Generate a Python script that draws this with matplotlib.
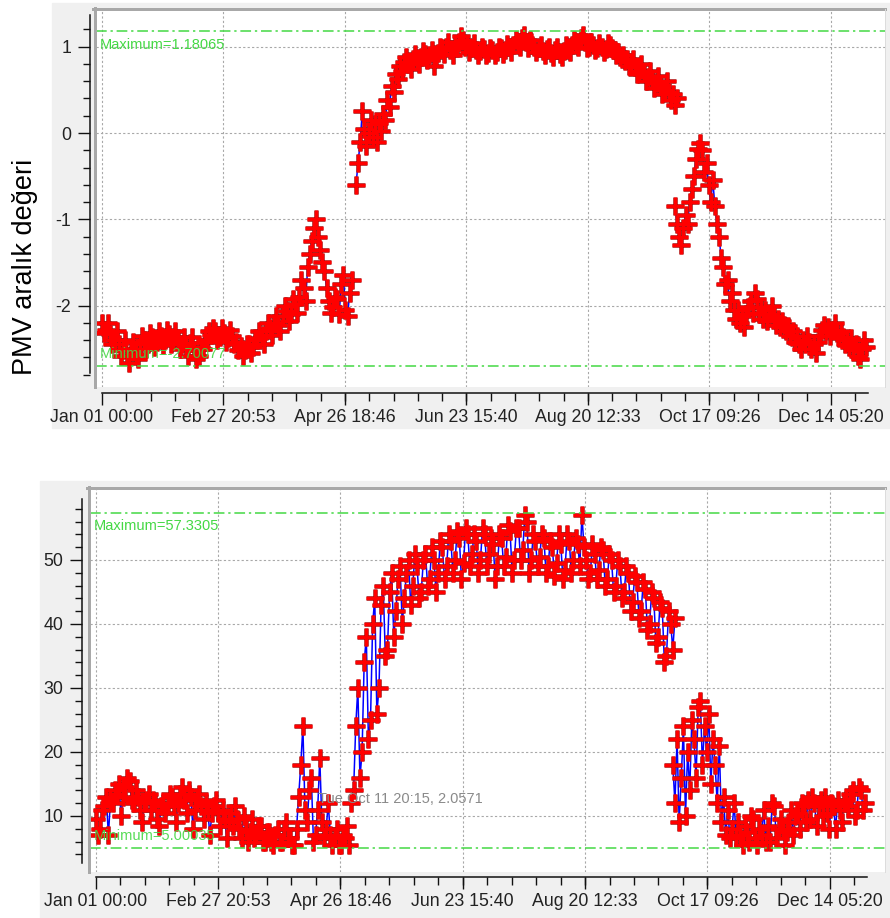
import numpy as np
import pandas as pd
import matplotlib
matplotlib.use('Agg')
import matplotlib.pyplot as plt
from matplotlib.ticker import FixedLocator, NullFormatter
from matplotlib.lines import Line2D
from matplotlib.patches import Rectangle

W, H = 890, 918

# x axis labels (one year, hourly data)
tick_labels = ['Jan 01 00:00', 'Feb 27 20:53', 'Apr 26 18:46', 'Jun 23 15:40',
               'Aug 20 12:33', 'Oct 17 09:26', 'Dec 14 05:20']

# top chart: PMV, three segments, one value per day from the start day
pmv_starts = [0, 121, 273]
pmv_seg1 = [-2.20, -2.32, -2.28, -2.20, -2.33, -2.45, -2.40, -2.30, -2.45, -2.58,
            -2.52, -2.40, -2.58, -2.66, -2.50, -2.42, -2.56, -2.62, -2.45, -2.35,
            -2.40, -2.50, -2.44, -2.32, -2.36, -2.48, -2.42, -2.30, -2.35, -2.46,
            -2.40, -2.28, -2.33, -2.44, -2.41, -2.30, -2.38, -2.50, -2.45, -2.36,
            -2.48, -2.58, -2.43, -2.36, -2.52, -2.62, -2.58, -2.48, -2.50, -2.40,
            -2.42, -2.30, -2.34, -2.26, -2.30, -2.40, -2.36, -2.26, -2.32, -2.42,
            -2.38, -2.28, -2.35, -2.44, -2.42, -2.52, -2.47, -2.58, -2.52, -2.44,
            -2.45, -2.55, -2.48, -2.38, -2.40, -2.30, -2.36, -2.44, -2.30, -2.20,
            -2.26, -2.34, -2.20, -2.12, -2.22, -2.30, -2.12, -2.00, -2.06, -2.18,
            -2.10, -1.92, -1.98, -2.08, -1.90, -1.70, -1.80, -1.95, -1.55, -1.40,
            -1.25, -1.10, -1.00, -1.20, -1.35, -1.50, -1.60, -1.80, -1.95, -2.08,
            -2.02, -1.90, -1.92, -2.10, -1.75, -1.65, -2.05, -2.12, -1.85, -1.70]
pmv_seg2 = [-0.60, -0.35, -0.10, 0.25, 0.05, -0.15, 0.00, 0.15, -0.05, 0.10,
            -0.10, 0.12, 0.02, 0.22, 0.15, 0.38, 0.30, 0.55, 0.48, 0.68,
            0.62, 0.78, 0.72, 0.82, 0.88, 0.80, 0.74, 0.86, 0.92, 0.84,
            0.80, 0.88, 0.95, 0.92, 0.85, 0.90, 0.96, 0.78, 0.88, 0.93,
            1.00, 0.98, 0.92, 1.00, 1.06, 0.96, 0.90, 1.02, 0.98, 1.05,
            1.12, 1.08, 1.00, 1.02, 0.94, 0.98, 1.04, 0.96, 0.90, 0.95,
            1.00, 0.97, 0.90, 0.93, 0.99, 0.96, 0.90, 0.94, 1.00, 0.98,
            0.92, 0.96, 1.03, 1.00, 0.94, 1.02, 1.08, 1.06, 1.00, 1.10,
            1.14, 1.05, 0.98, 1.08, 1.02, 1.00, 0.94, 0.98, 1.02, 0.95,
            0.90, 0.97, 1.00, 0.93, 0.88, 0.96, 1.00, 0.92, 0.88, 0.95,
            1.02, 0.98, 0.94, 1.02, 1.08, 1.06, 1.00, 1.10, 1.14, 1.05,
            0.98, 1.00, 1.06, 1.02, 0.96, 0.98, 1.04, 1.00, 0.94, 0.97,
            1.04, 1.02, 0.98, 0.96, 0.90, 0.94, 0.88, 0.90, 0.84, 0.86,
            0.78, 0.82, 0.86, 0.76, 0.68, 0.72, 0.80, 0.70, 0.60, 0.65,
            0.72, 0.62, 0.52, 0.58, 0.66, 0.55, 0.45, 0.50, 0.60, 0.48,
            0.38, 0.45, 0.32, 0.40]
pmv_seg3 = [-0.85, -1.05, -1.20, -1.30, -1.10, -0.95, -1.05, -0.80, -0.65, -0.50,
            -0.30, -0.18, -0.12, -0.20, -0.45, -0.35, -0.60, -0.80, -0.55, -0.85,
            -1.05, -1.20, -1.45, -1.55, -1.75, -1.70, -1.95, -1.85, -2.05, -2.15,
            -2.05, -2.20, -2.12, -2.25, -2.10, -2.02, -1.95, -2.08, -1.85, -1.92,
            -2.10, -2.02, -2.15, -2.05, -2.18, -2.10, -2.00, -2.12, -2.22, -2.15,
            -2.25, -2.18, -2.22, -2.30, -2.24, -2.35, -2.30, -2.42, -2.35, -2.45,
            -2.50, -2.40, -2.45, -2.35, -2.42, -2.50, -2.45, -2.55, -2.42, -2.35,
            -2.28, -2.22, -2.30, -2.25, -2.35, -2.28, -2.20, -2.32, -2.38, -2.30,
            -2.36, -2.44, -2.40, -2.48, -2.38, -2.52, -2.45, -2.58, -2.62, -2.50,
            -2.40, -2.48]
pmv_max = 1.18065
pmv_min = -2.70077

# bottom chart
val_starts = [0, 121, 273]
val_seg1 = [9.5, 7.0, 8.0, 11.0, 11.5, 13.0, 7.0, 12.5, 12.0, 14.0,
            13.5, 15.0, 10.0, 13.0, 14.5, 16.0, 15.5, 12.5, 12.0, 14.0,
            13.0, 11.0, 9.0, 12.0, 12.5, 13.5, 11.0, 12.5, 12.0, 9.5,
            8.5, 11.5, 12.0, 10.5, 11.5, 13.5, 13.0, 11.5, 9.0, 12.0,
            13.5, 14.5, 12.5, 10.5, 14.0, 13.0, 8.0, 11.0, 12.5, 13.5,
            11.5, 9.5, 12.0, 11.0, 7.0, 10.5, 11.5, 12.5, 10.5, 8.5,
            11.0, 9.5, 6.5, 9.0, 10.5, 8.5, 11.5, 9.5, 8.0, 6.5,
            10.0, 8.0, 6.0, 7.5, 9.5, 6.5, 7.0, 8.5, 8.5, 6.0,
            6.0, 7.5, 7.5, 6.0, 5.5, 7.0, 8.0, 6.0, 6.0, 8.0,
            9.0, 6.5, 6.5, 5.5, 5.5, 8.0, 13.0, 18.0, 24.0, 11.0,
            9.0, 14.0, 16.0, 6.0, 7.0, 11.0, 19.0, 9.0, 6.5, 8.0,
            12.0, 7.0, 5.5, 6.5, 8.0, 5.5, 5.5, 7.0, 6.5, 8.5,
            5.5]
val_seg2 = [12.0, 14.0, 24.0, 30.0, 16.0, 20.0, 34.0, 38.0, 22.0, 25.0,
            40.0, 44.0, 26.0, 30.0, 43.0, 46.0, 35.0, 36.0, 45.0, 48.0,
            38.0, 42.0, 47.0, 49.0, 40.0, 44.0, 48.0, 50.0, 43.0, 46.0,
            51.0, 49.0, 44.0, 45.0, 50.0, 51.0, 46.0, 47.0, 52.0, 50.0,
            45.0, 48.0, 53.0, 52.0, 47.0, 49.0, 54.0, 53.0, 48.0, 50.0,
            54.5, 53.5, 47.0, 49.5, 55.0, 54.0, 49.0, 51.0, 54.0, 53.0,
            48.0, 50.0, 55.0, 54.0, 49.0, 51.0, 53.5, 52.5, 47.0, 49.0,
            54.0, 53.5, 49.0, 50.5, 55.5, 54.5, 48.0, 50.0, 55.0, 55.0,
            50.0, 51.5, 57.0, 56.0, 48.0, 50.0, 54.0, 53.0, 49.0, 50.5,
            54.0, 53.5, 48.0, 49.0, 53.0, 52.0, 47.5, 49.5, 54.0, 52.5,
            47.0, 48.5, 54.0, 53.0, 48.0, 50.0, 53.5, 52.5, 49.0, 57.0,
            52.0, 50.0, 47.0, 48.0, 52.5, 51.0, 47.0, 48.5, 52.0, 51.5,
            46.0, 47.0, 51.0, 50.0, 45.0, 46.0, 50.0, 49.0, 44.0, 45.0,
            49.0, 48.0, 42.0, 43.5, 47.5, 46.5, 41.0, 42.0, 46.5, 45.5,
            39.0, 40.0, 45.0, 44.0, 37.0, 38.0, 43.5, 42.5, 34.0, 35.0,
            42.0, 40.0, 36.0, 41.0]
val_seg3 = [18.0, 12.0, 22.0, 9.0, 16.0, 24.0, 10.0, 20.0, 14.0, 25.0,
            22.0, 16.0, 27.0, 28.0, 18.0, 24.0, 20.0, 26.0, 15.0, 22.0,
            18.0, 12.0, 21.0, 9.0, 13.0, 7.0, 11.0, 6.5, 8.0, 12.0,
            6.5, 9.0, 7.0, 5.5, 8.5, 7.5, 6.0, 10.0, 9.5, 6.5,
            5.5, 8.0, 7.0, 11.0, 6.0, 8.5, 6.0, 12.0, 11.5, 6.5,
            8.0, 9.5, 8.0, 5.5, 7.5, 9.0, 11.0, 7.0, 10.0, 10.5,
            8.0, 12.0, 11.5, 9.0, 12.5, 9.5, 13.0, 12.0, 8.5, 11.5,
            12.5, 10.0, 13.0, 10.5, 8.0, 12.0, 11.5, 8.0, 12.5, 11.0,
            9.0, 12.0, 12.5, 11.5, 13.5, 14.0, 10.0, 11.0, 14.5, 14.0,
            11.0, 12.0]
val_max = 57.3305
val_min = 5.00035
tooltip = 'Tue Oct 11 20:15, 2.0571'

# tick positions in days from the label strings
t0 = pd.Timestamp('2015-01-01')
tick_days = [(pd.to_datetime('2015 ' + s, format='%Y %b %d %H:%M') - t0).total_seconds() / 86400
             for s in tick_labels]
minor_days = np.arange(0, 365, (tick_days[1] - tick_days[0]) / 5)

PT = 72 / 100.0  # points per pixel
FONT = 'Liberation Sans'
GREEN = '#44d844'

fig = plt.figure(figsize=(W / 100, H / 100), dpi=100)
fig.patch.set_facecolor('white')


def prect(l, t, r, b):
    return [l / W, 1 - b / H, (r - l) / W, (b - t) / H]


def fline(x0, y0, x1, y1, **kw):
    fig.add_artist(Line2D([x0 / W, x1 / W], [1 - y0 / H, 1 - y1 / H],
                          transform=fig.transFigure, zorder=5, **kw))


def panel(l, t, r, b):
    fig.add_artist(Rectangle((l / W, 1 - b / H), (r - l) / W, (b - t) / H,
                             transform=fig.transFigure, color='#f0f0f0', zorder=-2))


def draw(ax, starts, segs, vmax, vmin, maxlabel, minlabel, ylim, xlim, ymaj, ymin_ticks,
         ybounds, yout, xout, maxoff, minoff):
    ax.set_facecolor('white')
    for s0, seg in zip(starts, segs):
        d = s0 + np.arange(len(seg))
        ax.plot(d, seg, color='#0000ff', lw=1.1, zorder=2)
        ax.plot(d, seg, ls='none', marker='+', ms=13.5, mew=3.3, color='#b01414', zorder=3)
        ax.plot(d, seg, ls='none', marker='+', ms=13, mew=2.2, color='#ff0000', zorder=4)
    dd = (0, (7, 2.5, 1.5, 2.5))
    ax.axhline(vmax, color=GREEN, lw=1.1, ls=dd, zorder=5)
    ax.axhline(vmin, color=GREEN, lw=1.1, ls=dd, zorder=5)
    ax.annotate(maxlabel, xy=(0.005, vmax), xycoords=ax.get_yaxis_transform(),
                xytext=(0, -maxoff * PT), textcoords='offset points', color=GREEN,
                fontsize=10.5, family=FONT, va='center', ha='left', zorder=6)
    ax.annotate(minlabel, xy=(0.005, vmin), xycoords=ax.get_yaxis_transform(),
                xytext=(0, minoff * PT), textcoords='offset points', color=GREEN,
                fontsize=10.5, family=FONT, va='center', ha='left', zorder=6, alpha=0.9)
    ax.set_xlim(*xlim)
    ax.set_ylim(*ylim)
    ax.xaxis.set_major_locator(FixedLocator(tick_days))
    ax.xaxis.set_minor_locator(FixedLocator(minor_days))
    ax.set_xticklabels(tick_labels)
    ax.xaxis.set_minor_formatter(NullFormatter())
    ax.yaxis.set_major_locator(FixedLocator(ymaj))
    ax.yaxis.set_minor_locator(FixedLocator(ymin_ticks))
    ax.set_yticklabels([f'{v:g}' for v in ymaj])
    ax.grid(True, which='major', color='#a8a8a8', ls=(0, (2, 2)), lw=0.8, zorder=1)
    for k in ['top', 'right']:
        ax.spines[k].set_visible(False)
    ax.spines['left'].set_position(('outward', yout * PT))
    ax.spines['bottom'].set_position(('outward', xout * PT))
    ax.spines['left'].set_bounds(*ybounds)
    ax.spines['bottom'].set_bounds(0, 365)
    for k in ['left', 'bottom']:
        ax.spines[k].set_linewidth(1.1)
        ax.spines[k].set_color('#111111')
    ax.tick_params(which='major', length=12 * PT, width=1.0, color='#111111',
                   labelsize=12.8, labelcolor='#222222')
    ax.tick_params(which='minor', length=7.5 * PT, width=1.0, color='#111111')
    ax.tick_params(axis='y', pad=5)
    ax.tick_params(axis='x', pad=3)
    for lab in ax.get_xticklabels() + ax.get_yticklabels():
        lab.set_family(FONT)


# top chart
panel(52, 3, 890, 428)
ax1 = fig.add_axes(prect(96, 10, 885, 387))
x1 = (-6 / 2.099, 783 / 2.099)
draw(ax1, pmv_starts, [pmv_seg1, pmv_seg2, pmv_seg3], pmv_max, pmv_min,
     'Maximum=1.18065', 'Minimum=-2.70077', ((133 - 387) / 86.3, (133 - 10) / 86.3), x1,
     [-2, -1, 0, 1], np.arange(-2.8, 1.3, 0.2), (-2.78, 1.37), 6, 6, 14, 12)
fline(94.5, 8, 94.5, 387, color='#a8a8a8', lw=3 * PT)
fline(93, 9, 885, 9, color='#a8a8a8', lw=3 * PT)
fline(885, 9, 885, 387, color='#dcdcdc', lw=1 * PT)

# bottom chart
panel(40, 481, 890, 918)
ax2 = fig.add_axes(prect(90, 489, 885, 872))
x2 = (-5.7 / 2.114, 789.3 / 2.114)
draw(ax2, val_starts, [val_seg1, val_seg2, val_seg3], val_max, val_min,
     'Maximum=57.3305', 'Minimum=5.00035', (10 - 56 / 6.4, 10 + 327 / 6.4), x2,
     [10, 20, 30, 40, 50], np.arange(4, 59, 2), (2.6, 59.6), 8, 5, 13, 12)
ax2.text(0.287, 12.6, tooltip, transform=ax2.get_yaxis_transform(), color='#8a8a8a',
         fontsize=10.5, family=FONT, va='center', ha='left', zorder=7)
fline(88.5, 487, 88.5, 872, color='#a8a8a8', lw=3 * PT)
fline(87, 488, 885, 488, color='#a8a8a8', lw=3 * PT)
fline(885, 488, 885, 872, color='#dcdcdc', lw=1 * PT)

fig.text(25 / W, 1 - 267 / H, 'PMV aralık değeri', rotation=90, ha='center', va='center',
         fontsize=19.5, family=FONT, color='black')

fig.savefig('out.png', dpi=100)
